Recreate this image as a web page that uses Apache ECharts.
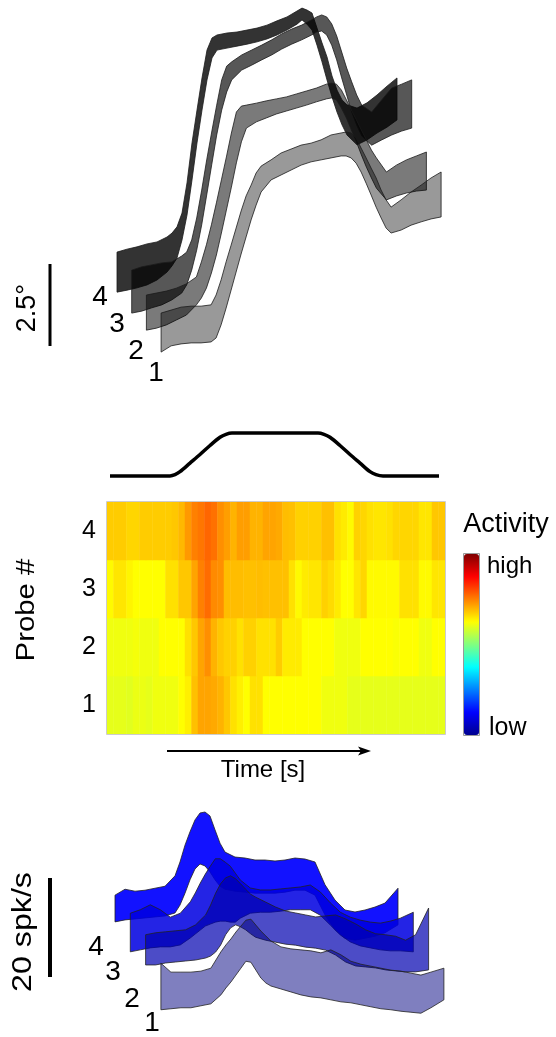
<!DOCTYPE html>
<html><head><meta charset="utf-8">
<script src="https://cdn.jsdelivr.net/npm/echarts@6/dist/echarts.min.js"></script>
<style>html,body{margin:0;padding:0;background:#fff}#c{width:556px;height:1037px}</style>
</head><body><div id="c"></div>
<script>
// ---------- Eye position (degrees) per probe, band = lower/upper ----------
const eyeTime = [0,0.1,0.2,0.3,0.4,0.5,0.55,0.6,0.65,0.7,0.75,0.8,0.85,0.9,0.95,1.0,1.1,1.2,1.3,1.4,1.5,1.6,1.7,1.8,1.85,1.9,1.95,2.0,2.05,2.1,2.15,2.2,2.25,2.3,2.4,2.5,2.6,2.7,2.8];
const eyeP4Upper = [1.46,1.55,1.62,1.71,1.77,1.92,2.04,2.23,2.65,3.57,4.79,5.79,6.77,7.62,7.99,8.08,8.14,8.17,8.23,8.29,8.38,8.51,8.63,8.81,8.90,8.84,8.75,8.29,7.84,7.41,6.83,6.40,6.10,5.95,5.85,6.01,6.25,6.52,6.77];
const eyeP4Lower = [0.24,0.30,0.37,0.46,0.61,0.85,1.04,1.28,1.83,2.59,3.66,4.79,5.79,6.71,7.38,7.62,7.68,7.74,7.80,7.87,7.96,8.08,8.23,8.41,8.54,8.41,8.23,7.77,7.26,6.71,6.19,5.73,5.34,5.03,4.73,4.88,5.09,5.27,5.49];
const eyeP3Upper = [1.49,1.59,1.65,1.71,1.74,1.92,2.04,2.41,3.08,3.93,4.85,5.70,6.52,7.29,7.71,7.84,8.05,8.20,8.35,8.51,8.69,8.84,8.96,9.12,9.21,9.27,9.21,9.00,8.63,8.14,7.65,7.23,6.83,6.52,6.31,6.68,7.04,7.16,7.29];
const eyeP3Lower = [0.18,0.24,0.34,0.43,0.58,0.79,1.04,1.49,2.10,2.87,3.78,4.70,5.61,6.37,6.92,7.29,7.59,7.74,7.90,8.05,8.23,8.38,8.51,8.66,8.75,8.78,8.66,8.35,7.90,7.35,6.83,6.31,5.91,5.58,5.30,5.46,5.61,5.73,5.82];
const eyeP2Upper = [1.31,1.37,1.43,1.52,1.65,1.86,2.32,2.84,3.45,4.12,4.82,5.52,6.25,6.89,7.07,7.10,7.16,7.23,7.29,7.35,7.44,7.53,7.62,7.74,7.77,7.74,7.56,7.26,6.95,6.65,6.34,6.04,5.73,5.49,5.06,5.27,5.43,5.55,5.67];
const eyeP2Lower = [0.24,0.30,0.40,0.55,0.70,1.01,1.22,1.52,1.98,2.53,3.20,3.90,4.60,5.34,5.98,6.40,6.59,6.71,6.83,6.92,7.01,7.10,7.20,7.29,7.32,7.26,7.01,6.71,6.34,5.98,5.58,5.21,4.88,4.57,4.21,4.33,4.42,4.48,4.51];
const eyeP1Upper = [1.34,1.43,1.52,1.55,1.55,1.59,1.89,2.35,2.90,3.41,3.93,4.45,4.91,5.24,5.61,5.82,6.01,6.22,6.34,6.46,6.52,6.62,6.77,6.83,6.86,6.83,6.68,6.37,6.07,5.76,5.46,5.09,4.79,4.57,4.79,5.03,5.24,5.46,5.64];
const eyeP1Lower = [0.15,0.34,0.40,0.43,0.43,0.46,0.58,0.98,1.49,2.04,2.59,3.14,3.66,4.18,4.63,5.03,5.40,5.55,5.70,5.85,5.95,6.01,6.07,6.13,6.13,6.07,5.91,5.64,5.30,4.94,4.57,4.24,3.93,3.78,3.87,4.02,4.12,4.21,4.27];
const eyeScaleBar = [0, 2.5];

// ---------- Stimulus profile ----------
const stimTime  = [0,0.6,0.65,0.7,0.8,0.9,1.0,1.1,1.16,1.22,2.08,2.14,2.2,2.3,2.4,2.5,2.6,2.66,2.73,3.29];
const stimValue = [0,0,0.03,0.1,0.3,0.5,0.71,0.9,0.97,1,1,0.97,0.9,0.71,0.5,0.3,0.1,0.03,0,0];

// ---------- Activity heatmap (normalised 0..1) ----------
const probeLabels = ['1','2','3','4'];
const heatRow1 = [.60,.60,.60,.595,.605,.605,.60,.61,.61,.61,.61,.625,.64,.687,.715,.715,.71,.70,.68,.655,.64,.625,.655,.655,.625,.625,.625,.625,.625,.625,.625,.625,.625,.61,.61,.61,.61,.60,.60,.60,.60,.60,.60,.60,.60,.60,.60,.60,.60,.60,.60,.60];
const heatRow2 = [.61,.61,.61,.61,.615,.61,.61,.61,.625,.625,.625,.625,.655,.68,.715,.735,.70,.68,.67,.67,.655,.67,.67,.655,.655,.655,.675,.645,.645,.645,.625,.625,.625,.625,.625,.61,.61,.61,.61,.625,.625,.625,.625,.625,.62,.625,.625,.625,.61,.61,.625,.625];
const heatRow3 = [.63,.65,.65,.635,.625,.625,.625,.625,.625,.655,.655,.68,.68,.715,.75,.77,.74,.735,.69,.69,.69,.687,.687,.69,.687,.687,.687,.687,.655,.63,.645,.65,.65,.67,.66,.645,.625,.625,.65,.665,.63,.63,.63,.63,.63,.655,.655,.655,.63,.63,.65,.65];
const heatRow4 = [.675,.675,.675,.665,.665,.675,.675,.675,.675,.675,.68,.695,.725,.75,.76,.775,.765,.735,.72,.70,.72,.72,.70,.70,.715,.715,.71,.69,.687,.67,.67,.67,.67,.687,.687,.655,.645,.63,.67,.665,.655,.65,.65,.655,.665,.665,.665,.665,.65,.65,.68,.68];

// ---------- Firing rate (spk/s) per probe ----------
const rateTime = [0,0.1,0.2,0.3,0.4,0.5,0.6,0.65,0.7,0.75,0.8,0.85,0.9,0.95,1.0,1.05,1.1,1.2,1.3,1.4,1.5,1.6,1.7,1.8,1.9,2.0,2.1,2.2,2.3,2.4,2.5,2.6,2.7,2.83];
const rateP4Upper = [13.1,14.3,13.9,14.1,14.5,14.9,17.0,19.8,23.2,25.9,28.3,29.7,29.9,29.1,26.3,23.6,21.8,20.8,20.6,20.2,20.2,20.0,20.2,20.6,20.4,19.8,15.2,12.1,10.1,9.7,10.1,10.7,11.5,14.5];
const rateP4Lower = [7.7,8.1,8.3,8.5,8.7,8.9,9.5,11.1,13.5,16.2,18.4,19.4,19.0,17.8,16.2,14.9,14.3,13.9,13.7,13.5,13.5,13.5,13.7,14.1,14.1,13.1,9.1,6.1,4.4,4.0,4.4,4.8,5.5,7.1];
const rateP3Upper = [14.5,15.2,16.2,15.2,13.7,14.5,16.8,18.6,20.6,22.4,24.0,25.5,25.5,24.8,24.0,22.6,21.2,19.6,19.2,19.2,19.4,19.6,19.8,20.2,18.8,16.6,14.7,13.7,13.1,12.7,12.5,12.9,13.5,14.7];
const rateP3Lower = [6.7,7.1,7.5,7.7,7.7,8.1,9.5,10.3,11.1,11.9,12.3,12.7,12.9,12.9,12.7,12.7,13.5,14.5,14.7,14.7,14.9,15.2,15.2,15.2,14.1,12.1,10.1,8.7,7.9,7.5,7.1,6.9,6.9,6.7];
const rateP2Upper = [15.2,15.6,15.8,16.0,16.2,17.2,19.2,21.2,23.6,25.5,26.7,27.1,26.5,25.5,24.4,23.4,22.8,21.8,20.8,20.0,19.6,19.2,18.8,19.0,19.2,18.4,17.4,16.2,15.4,15.2,14.9,14.1,15.2,20.6];
const rateP2Lower = [9.1,9.1,9.5,9.7,9.9,10.1,10.5,10.9,11.7,13.1,15.2,16.6,17.2,16.8,16.2,15.4,14.7,14.1,13.7,13.3,13.1,12.7,12.5,12.1,11.1,9.7,8.9,8.7,8.5,8.1,7.9,7.7,7.7,8.1];
const rateP1Upper = [14.5,12.7,12.7,12.7,12.9,13.5,16.8,18.2,19.4,20.8,22.0,23.2,23.4,22.2,21.0,20.0,19.0,17.8,17.4,17.2,17.0,16.6,17.2,16.2,14.9,14.3,13.9,13.5,13.1,12.9,12.5,12.1,12.7,13.5];
const rateP1Lower = [5.1,5.3,5.5,5.5,5.9,6.3,8.1,9.5,10.7,12.1,13.5,14.9,14.7,13.1,11.5,10.5,9.9,9.3,8.7,8.1,7.7,7.5,7.1,6.7,6.5,6.1,5.7,5.3,5.1,4.8,4.6,4.4,5.5,7.1];
const rateScaleBar = [0, 20];

// ================= chart =================
const FONT = "'Liberation Sans', Arial, sans-serif";
const chart = echarts.init(document.getElementById('c'), null, {renderer: 'canvas'});

const grids = [], xAxes = [], yAxes = [], series = [];
function addGrid(left, top, width, height, xr, yr) {
  const idx = grids.length;
  grids.push({left, top, width, height, outerBoundsMode: 'none', containLabel: false});
  xAxes.push({type: 'value', gridIndex: idx, min: xr[0], max: xr[1], show: false});
  yAxes.push({type: 'value', gridIndex: idx, min: yr[0], max: yr[1], show: false});
  return idx;
}
function bandSeries(g, times, upper, lower, fill, stroke) {
  return {
    type: 'custom', coordinateSystem: 'cartesian2d', xAxisIndex: g, yAxisIndex: g,
    silent: true, clip: false, animation: false,
    data: times.map((t, k) => [t, lower[k], upper[k]]),
    encode: {x: 0, y: [1, 2]},
    renderItem: function (params, api) {
      if (params.dataIndex !== 0) return null;
      const pts = [];
      for (let k = 0; k < times.length; k++) pts.push(api.coord([times[k], upper[k]]));
      for (let k = times.length - 1; k >= 0; k--) pts.push(api.coord([times[k], lower[k]]));
      return {type: 'polygon', shape: {points: pts},
              style: {fill: fill, stroke: stroke, lineWidth: 0.8}};
    }
  };
}

// --- top panel: eye position bands (probe 4 at back-left ... probe 1 front) ---
const eyePxPerDeg = 32.8;
const eyeBands = [
  [eyeP4Upper, eyeP4Lower, 'rgba(0,0,0,0.80)'],
  [eyeP3Upper, eyeP3Lower, 'rgba(0,0,0,0.66)'],
  [eyeP2Upper, eyeP2Lower, 'rgba(0,0,0,0.52)'],
  [eyeP1Upper, eyeP1Lower, 'rgba(0,0,0,0.40)']
];
eyeBands.forEach((b, i) => {
  const base = 300 + 19 * i;
  const g = addGrid(117 + 14.7 * i, base - 9 * eyePxPerDeg, 280, 9 * eyePxPerDeg, [0, 2.8], [0, 9]);
  series.push(bandSeries(g, eyeTime, b[0], b[1], b[2], '#1a1a1a'));
});
// eye scale bar
{
  const g = addGrid(40, 264, 20, 2.5 * eyePxPerDeg, [-1, 1], [0, 2.5]);
  series.push({type: 'line', xAxisIndex: g, yAxisIndex: g, data: eyeScaleBar.map(v => [0, v]),
    symbol: 'none', lineStyle: {color: '#000', width: 3}, silent: true, animation: false});
}

// --- stimulus profile ---
{
  const g = addGrid(110, 433, 329, 43, [0, 3.29], [0, 1]);
  series.push({type: 'line', xAxisIndex: g, yAxisIndex: g, data: stimTime.map((t, k) => [t, stimValue[k]]),
    symbol: 'none', smooth: 0.3, lineStyle: {color: '#000', width: 3.5, cap: 'butt', join: 'round'},
    silent: true, animation: false, clip: false});
}

// --- heatmap ---
const heatCols = heatRow1.map((_, i) => String(i));
const heatRows = [heatRow1, heatRow2, heatRow3, heatRow4];
const heatData = [];
heatRows.forEach((row, r) => row.forEach((v, c) => heatData.push([c, r, v])));
const heatGrid = grids.length;
grids.push({left: 107, top: 502, width: 338, height: 232, outerBoundsMode: 'none', containLabel: false});
xAxes.push({type: 'category', gridIndex: heatGrid, data: heatCols, show: false});
yAxes.push({type: 'category', gridIndex: heatGrid, data: probeLabels,
  axisLine: {show: false}, axisTick: {show: false}, splitLine: {show: false},
  axisLabel: {fontSize: 25, color: '#000', fontFamily: FONT, margin: 11}});
const heatSeriesIndex = series.length;
series.push({type: 'heatmap', xAxisIndex: heatGrid, yAxisIndex: heatGrid, data: heatData,
  silent: true, animation: false, itemStyle: {borderWidth: 0}});

// --- bottom panel: firing rate bands ---
const ratePxPerUnit = 4.95;
const rateBands = [
  [rateP4Upper, rateP4Lower, 'rgba(0,0,255,0.93)'],
  [rateP3Upper, rateP3Lower, 'rgba(0,0,225,0.86)'],
  [rateP2Upper, rateP2Lower, 'rgba(0,0,175,0.70)'],
  [rateP1Upper, rateP1Lower, 'rgba(0,0,128,0.50)']
];
rateBands.forEach((b, i) => {
  const base = 960 + 25 * i;
  const g = addGrid(115 + 15.3 * i, base - 30 * ratePxPerUnit, 283, 30 * ratePxPerUnit, [0, 2.83], [0, 30]);
  series.push(bandSeries(g, rateTime, b[0], b[1], b[2], '#222'));
});
{
  const g = addGrid(40, 878, 20, 20 * ratePxPerUnit, [-1, 1], [0, 20]);
  series.push({type: 'line', xAxisIndex: g, yAxisIndex: g, data: rateScaleBar.map(v => [0, v]),
    symbol: 'none', lineStyle: {color: '#000', width: 4}, silent: true, animation: false});
}

function txt(text, x, y, size, extra) {
  return Object.assign({type: 'text', x: x, y: y, silent: true, z: 100,
    style: {text: text, font: size + 'px ' + FONT, fill: '#000', align: 'center', verticalAlign: 'middle'}}, extra || {});
}
const graphics = [
  txt('2.5°', 28, 308, 27, {rotation: Math.PI / 2}),
  txt('4', 100, 297, 28), txt('3', 117, 324, 28), txt('2', 136, 351, 28), txt('1', 156, 373, 28),
  txt('Probe #', 27, 610, 26, {rotation: Math.PI / 2, scaleX: 1.13}),
  txt('Activity', 506, 525, 27),
  {type: 'text', x: 487, y: 566, silent: true, z: 100, style: {text: 'high', font: '24px ' + FONT, fill: '#000', align: 'left', verticalAlign: 'middle'}},
  {type: 'text', x: 489, y: 728, silent: true, z: 100, style: {text: 'low', font: '25px ' + FONT, fill: '#000', align: 'left', verticalAlign: 'middle'}},
  {type: 'rect', silent: true, z: 100, shape: {x: 463.5, y: 553.5, width: 16, height: 182}, style: {fill: 'none', stroke: '#999', lineWidth: 1}},
  {type: 'rect', silent: true, z: 100, shape: {x: 106.5, y: 501.5, width: 339, height: 233}, style: {fill: 'none', stroke: '#ccc', lineWidth: 1}},
  {type: 'line', silent: true, z: 100, shape: {x1: 167, y1: 751, x2: 362, y2: 751}, style: {stroke: '#000', lineWidth: 2}},
  {type: 'polygon', silent: true, z: 100, shape: {points: [[358, 746.5], [371, 751], [358, 755.5], [361, 751]]}, style: {fill: '#000'}},
  txt('Time [s]', 263, 770, 24),
  txt('20 spk/s', 23, 932, 28, {rotation: Math.PI / 2, scaleX: 1.15}),
  txt('4', 96, 947, 28), txt('3', 113, 972, 28), txt('2', 132, 999, 28), txt('1', 152, 1023, 28)
];

chart.setOption({
  animation: false,
  backgroundColor: '#fff',
  grid: grids, xAxis: xAxes, yAxis: yAxes,
  visualMap: {
    type: 'continuous', min: 0, max: 1, seriesIndex: heatSeriesIndex,
    calculable: false, orient: 'vertical', left: 464, top: 554, padding: 0,
    itemWidth: 15, itemHeight: 181, text: null, showLabel: false, hoverLink: false,
    inRange: {color: ['#00008f', '#0000ff', '#0080ff', '#00ffff', '#80ff80', '#ffff00', '#ff8000', '#ff0000', '#800000']}
  },
  graphic: graphics,
  series: series
});
</script></body></html>
